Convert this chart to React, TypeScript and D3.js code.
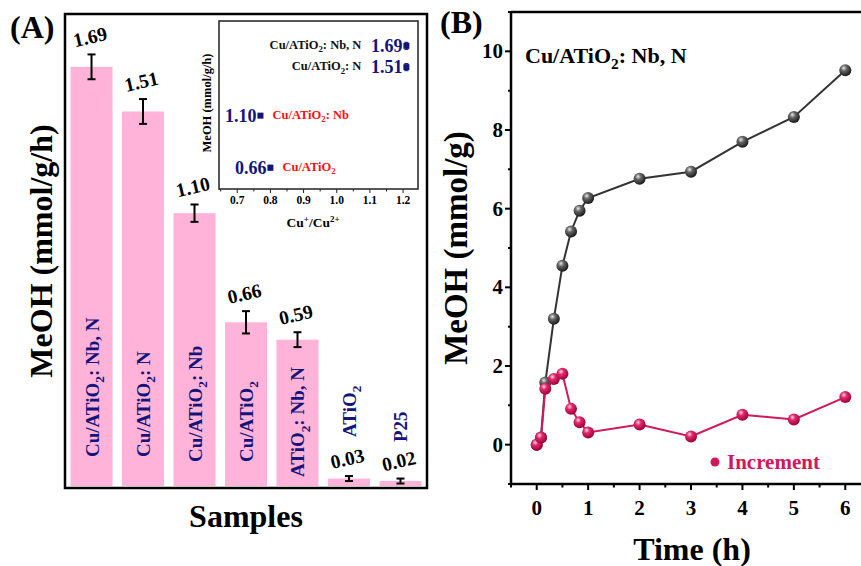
import React from "react";
import * as d3 from "d3";

// ---------- data ----------
const samples = ["Cu/ATiO2: Nb, N", "Cu/ATiO2: N", "Cu/ATiO2: Nb", "Cu/ATiO2", "ATiO2: Nb, N", "ATiO2", "P25"];
const rates = [1.69, 1.51, 1.10, 0.66, 0.59, 0.03, 0.02];
const rateErr = [0.05, 0.05, 0.035, 0.045, 0.03, 0.01, 0.01];

const insetNames = ["Cu/ATiO2: Nb, N", "Cu/ATiO2: N", "Cu/ATiO2: Nb", "Cu/ATiO2"];
const insetRatio = [1.21, 1.21, 0.77, 0.80];
const insetRate = [1.69, 1.51, 1.10, 0.66];
const insetErr = [0.03, 0.03, 0.015, 0.02];
const insetTicks = [0.7, 0.8, 0.9, 1.0, 1.1, 1.2];

const cumTime = [0, 0.083, 0.167, 0.333, 0.5, 0.667, 0.833, 1, 2, 3, 4, 5, 6];
const cumMeOH = [0, 0.18, 1.58, 3.2, 4.55, 5.42, 5.95, 6.27, 6.76, 6.94, 7.70, 8.33, 9.52];
const incTime = [0, 0.083, 0.167, 0.333, 0.5, 0.667, 0.833, 1, 2, 3, 4, 5, 6];
const incMeOH = [0, 0.18, 1.42, 1.67, 1.80, 0.91, 0.57, 0.31, 0.51, 0.21, 0.76, 0.64, 1.21];
const timeTicks = [0, 1, 2, 3, 4, 5, 6];
const meohTicks = [0, 2, 4, 6, 8, 10];

// ---------- layout ----------
const FONT = "'Liberation Serif', 'Times New Roman', serif";
const NAVY = "#14147a";
const PINK = "#ffb3d8";
const CRIMSON = "#d2175c";
const labelLift = [29, 29, 24, 24, 9, 49, 44];

function Chem({ text, size }: { text: string; size: number }) {
  const i = text.indexOf("TiO2");
  if (i < 0) return <>{text}</>;
  const pre = text.slice(0, i + 3);
  const post = text.slice(i + 4);
  const d = size * 0.28;
  return (
    <>
      <tspan>{pre}</tspan>
      <tspan dy={d} fontSize={size * 0.7}>2</tspan>
      <tspan dy={-d}>{post}</tspan>
    </>
  );
}

export default function App() {
  // Panel A
  const ax = d3.scaleBand<string>().domain(samples).range([65, 427]).paddingInner(0.184).paddingOuter(0.107);
  const ay = d3.scaleLinear().domain([0, 1.903]).range([486, 14]);
  const bw = ax.bandwidth();

  // Inset
  const ix = d3.scaleLinear().domain([0.645, 1.245]).range([219, 418]);
  const iy = d3.scaleLinear().domain([0.48, 1.9]).range([189, 21]);
  const iMinor = d3.range(0.65, 1.25, 0.05).map((v) => Math.round(v * 100) / 100);

  // Panel B
  const bx = d3.scaleLinear().domain([-0.5, 6.5]).range([511, 871]);
  const by = d3.scaleLinear().domain([-1, 11]).range([484, 12]);
  const line = d3.line<[number, number]>().x((d) => bx(d[0])).y((d) => by(d[1]));
  const cumPts = cumTime.map((t, i) => [t, cumMeOH[i]] as [number, number]);
  const incPts = incTime.map((t, i) => [t, incMeOH[i]] as [number, number]);
  const xMinor = d3.range(-0.5, 6.6, 0.5).filter((v) => !Number.isInteger(v));
  const yMinor = d3.range(-1, 11.1, 1).filter((v) => v % 2 !== 0);

  return (
    <svg width={861} height={566} style={{ position: "absolute", left: 0, top: 0, background: "#fff" }}
      fontFamily={FONT} fontWeight="bold">
      <defs>
        <radialGradient id="gBlack" cx="0.38" cy="0.32" r="0.7">
          <stop offset="0" stopColor="#e8e8e8" />
          <stop offset="0.35" stopColor="#666" />
          <stop offset="1" stopColor="#151515" />
        </radialGradient>
        <radialGradient id="gRed" cx="0.38" cy="0.32" r="0.7">
          <stop offset="0" stopColor="#ffd6e4" />
          <stop offset="0.35" stopColor="#e0286c" />
          <stop offset="1" stopColor="#9a0038" />
        </radialGradient>
      </defs>

      {/* ---------------- Panel A ---------------- */}
      <text x={10} y={38} fontSize={32}>(A)</text>
      {samples.map((s, i) => {
        const x0 = ax(s)!;
        const cx = x0 + bw / 2;
        const top = ay(rates[i]);
        const e1 = ay(rates[i] + rateErr[i]);
        const e2 = ay(rates[i] - rateErr[i]);
        return (
          <g key={s}>
            <rect x={x0} y={top} width={bw} height={ay(0) - top} fill={PINK} />
            <line x1={cx} x2={cx} y1={e1} y2={e2} stroke="#000" strokeWidth={2} />
            <line x1={cx - 4} x2={cx + 4} y1={e1} y2={e1} stroke="#000" strokeWidth={2} />
            <line x1={cx - 4} x2={cx + 4} y1={e2} y2={e2} stroke="#000" strokeWidth={2} />
            <text x={cx} y={e1 - 11} fontSize={19.5} textAnchor="middle" transform={`rotate(-13 ${cx} ${e1 - 11})`}>
              {rates[i].toFixed(2)}
            </text>
            <text x={cx + 7} y={ay(0) - labelLift[i]} fontSize={19} fill={NAVY}
              transform={`rotate(-90 ${cx + 7} ${ay(0) - labelLift[i]})`}>
              <Chem text={s} size={19} />
            </text>
          </g>
        );
      })}
      <rect x={65} y={14} width={362} height={474} fill="none" stroke="#000" strokeWidth={2.5} />
      <text x={0} y={0} fontSize={32} textAnchor="middle" transform="translate(52 251) rotate(-90)">
        MeOH (mmol/g/h)
      </text>
      <text x={246} y={527} fontSize={32} textAnchor="middle">Samples</text>

      {/* ---------------- Inset ---------------- */}
      <rect x={219} y={21} width={199} height={168} fill="#fff" stroke="#222" strokeWidth={1.5} />
      {iMinor.map((v) => (
        <line key={"im" + v} x1={ix(v)} x2={ix(v)} y1={189} y2={insetTicks.some((t) => Math.abs(t - v) < 1e-6) ? 193 : 191.5}
          stroke="#222" strokeWidth={1} />
      ))}
      {insetTicks.map((v) => (
        <text key={"it" + v} x={ix(v)} y={204} fontSize={11.5} textAnchor="middle">{v.toFixed(1)}</text>
      ))}
      <text x={313} y={227} fontSize={13.5} textAnchor="middle">
        Cu<tspan dy={-5} fontSize={9}>+</tspan><tspan dy={5}>/Cu</tspan><tspan dy={-5} fontSize={9}>2+</tspan>
      </text>
      <text x={0} y={0} fontSize={12.5} textAnchor="middle" transform="translate(211 103) rotate(-90)">
        MeOH (mmol/g/h)
      </text>
      {insetNames.map((n, i) => {
        const px = ix(insetRatio[i]);
        const py = iy(insetRate[i]);
        const top2 = i < 2;
        return (
          <g key={"in" + i}>
            <line x1={px} x2={px} y1={iy(insetRate[i] + insetErr[i])} y2={iy(insetRate[i] - insetErr[i])} stroke={NAVY} strokeWidth={1} />
            <line x1={px - 2} x2={px + 2} y1={iy(insetRate[i] + insetErr[i])} y2={iy(insetRate[i] + insetErr[i])} stroke={NAVY} strokeWidth={1} />
            <line x1={px - 2} x2={px + 2} y1={iy(insetRate[i] - insetErr[i])} y2={iy(insetRate[i] - insetErr[i])} stroke={NAVY} strokeWidth={1} />
            <rect x={px - 3} y={py - 3} width={6} height={6} fill={NAVY} />
            <text x={px - 4} y={py + 6} fontSize={18} fill={NAVY} textAnchor="end">{insetRate[i].toFixed(2)}</text>
            {top2 ? (
              <text x={px - 45} y={py + 3} fontSize={12.5} fill="#111" textAnchor="end">
                <Chem text={n} size={12.5} />
              </text>
            ) : (
              <text x={px + 12} y={py + 3} fontSize={12.5} fill="#ff1010">
                <Chem text={n} size={12.5} />
              </text>
            )}
          </g>
        );
      })}

      {/* ---------------- Panel B ---------------- */}
      <text x={440} y={33} fontSize={32}>(B)</text>
      <line x1={511} x2={861} y1={12} y2={12} stroke="#000" strokeWidth={2.5} />
      <line x1={511} x2={511} y1={11} y2={485} stroke="#000" strokeWidth={2.5} />
      <line x1={510} x2={861} y1={484} y2={484} stroke="#000" strokeWidth={2.5} />
      {meohTicks.map((v) => (
        <g key={"yt" + v}>
          <line x1={505} x2={511} y1={by(v)} y2={by(v)} stroke="#000" strokeWidth={2} />
          <text x={503} y={by(v) + 7} fontSize={21} textAnchor="end">{v}</text>
        </g>
      ))}
      {yMinor.map((v) => (
        <line key={"ym" + v} x1={508} x2={511} y1={by(v)} y2={by(v)} stroke="#000" strokeWidth={2} />
      ))}
      {timeTicks.map((v) => (
        <g key={"xt" + v}>
          <line x1={bx(v)} x2={bx(v)} y1={484} y2={490} stroke="#000" strokeWidth={2} />
          <text x={bx(v)} y={515} fontSize={21} textAnchor="middle">{v}</text>
        </g>
      ))}
      {xMinor.map((v) => (
        <line key={"xm" + v} x1={bx(v)} x2={bx(v)} y1={484} y2={487.5} stroke="#000" strokeWidth={2} />
      ))}
      <text x={0} y={0} fontSize={33} textAnchor="middle" transform="translate(467 248) rotate(-90)">
        MeOH (mmol/g)
      </text>
      <text x={692} y={560} fontSize={32} textAnchor="middle">Time (h)</text>
      <text x={525} y={63} fontSize={22}>
        <Chem text="Cu/ATiO2: Nb, N" size={22} />
      </text>

      <path d={line(cumPts)!} fill="none" stroke="#333" strokeWidth={2} />
      {cumPts.map((p, i) => (
        <circle key={"c" + i} cx={bx(p[0])} cy={by(p[1])} r={6} fill="url(#gBlack)" />
      ))}
      <path d={line(incPts)!} fill="none" stroke={CRIMSON} strokeWidth={2} />
      {incPts.map((p, i) => (
        <circle key={"r" + i} cx={bx(p[0])} cy={by(p[1])} r={6} fill="url(#gRed)" />
      ))}

      <circle cx={715} cy={462} r={4.5} fill={CRIMSON} />
      <text x={727} y={469} fontSize={21} fill={CRIMSON}>Increment</text>
    </svg>
  );
}
